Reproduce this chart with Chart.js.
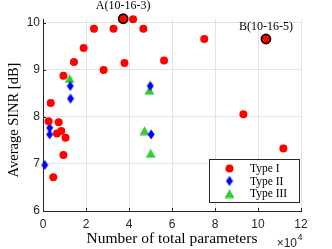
<!DOCTYPE html>
<html>
<head>
<meta charset="utf-8">
<script src="https://cdn.jsdelivr.net/npm/chart.js@4.4.0/dist/chart.umd.min.js"></script>
<style>
  html, body { margin: 0; padding: 0; background: #ffffff; }
  #wrap { width: 332px; height: 249px; }
</style>
</head>
<body>
<div id="wrap"><canvas id="c" width="332" height="249"></canvas></div>
<script>
// ---- data (x = number of total parameters, y = average SINR in dB) ----
const typeI_x = [4800, 2600, 3600, 7300, 6500, 8500, 10500, 9500, 9500, 14400, 18900, 23700, 28200, 32800, 37900, 37300, 41900, 46700, 56300, 75000, 103700, 93200, 111800];
const typeI_y = [6.72, 7.91, 8.30, 7.89, 7.65, 7.70, 7.56, 7.19, 8.88, 9.17, 9.47, 9.88, 9.00, 9.88, 9.15, 10.09, 10.08, 9.88, 9.20, 9.66, 9.66, 8.06, 7.33];
const typeII_x = [12800, 3100, 3100, 800, 12700, 49900, 50300];
const typeII_y = [8.39, 7.77, 7.63, 6.98, 8.66, 8.66, 7.63];
const typeIII_x = [12400, 49500, 47200, 50100];
const typeIII_y = [8.82, 8.57, 7.71, 7.23];
const seriesLabels = ['Type I', 'Type II', 'Type III'];
const annotLabels = ['A(10-16-3)', 'B(10-16-5)'];
const annotIndex = [15, 20];           // indices in Type I that are highlighted
const xTicks = [0, 20000, 40000, 60000, 80000, 100000, 120000];
const yTicks = [6, 7, 8, 9, 10];
const xTitle = 'Number of total parameters';
const yTitle = 'Average SINR [dB]';

const toPts = (xs, ys) => xs.map((x, i) => ({ x: x, y: ys[i] }));

function makeDiamond(color) {
  const c = document.createElement('canvas');
  c.width = 8; c.height = 11;
  const g = c.getContext('2d');
  g.fillStyle = color;
  g.beginPath();
  g.moveTo(4, 0.5); g.lineTo(7.5, 5.5); g.lineTo(4, 10.5); g.lineTo(0.5, 5.5); g.closePath();
  g.fill();
  return c;
}
function makeTriangle(color) {
  const c = document.createElement('canvas');
  c.width = 11; c.height = 10;
  const g = c.getContext('2d');
  g.fillStyle = color;
  g.beginPath();
  g.moveTo(5.5, 0.5); g.lineTo(10.5, 9.5); g.lineTo(0.5, 9.5); g.closePath();
  g.fill();
  return c;
}
const diamondImg = makeDiamond('#0000ff');
const triangleImg = makeTriangle('#33cc33');

const AX = '#262626';
const SERIF = '"Liberation Serif", "DejaVu Serif", serif';
const SANS = '"Liberation Sans", Arial, sans-serif';

const overlay = {
  id: 'overlay',
  afterDatasetsDraw(chart) {
    const ctx = chart.ctx;
    const xs = chart.scales.x, ys = chart.scales.y;
    const ca = chart.chartArea;
    ctx.save();
    // inside tick marks
    ctx.strokeStyle = AX; ctx.lineWidth = 1;
    xTicks.forEach(v => {
      const px = Math.round(xs.getPixelForValue(v)) + 0.5;
      ctx.beginPath(); ctx.moveTo(px, ca.bottom); ctx.lineTo(px, ca.bottom - 3); ctx.stroke();
    });
    yTicks.forEach(v => {
      const py = Math.round(ys.getPixelForValue(v)) + 0.5;
      ctx.beginPath(); ctx.moveTo(ca.left, py); ctx.lineTo(ca.left + 3, py); ctx.stroke();
    });
    // y axis title
    ctx.save();
    ctx.translate(14.5, 120);
    ctx.rotate(-Math.PI / 2);
    ctx.fillStyle = '#000';
    ctx.font = '14.5px ' + SERIF;
    ctx.textAlign = 'center'; ctx.textBaseline = 'middle';
    ctx.fillText(yTitle, 0, 0);
    ctx.restore();
    // annotations above highlighted points
    ctx.fillStyle = '#000';
    ctx.font = '12px ' + SERIF;
    ctx.textAlign = 'center'; ctx.textBaseline = 'middle';
    annotIndex.forEach((idx, k) => {
      const px = xs.getPixelForValue(typeI_x[idx]);
      const py = ys.getPixelForValue(typeI_y[idx]);
      ctx.fillText(annotLabels[k], px, py - 12.5);
    });
    // x10^4 exponent
    ctx.fillStyle = AX;
    ctx.font = '12px ' + SANS;
    ctx.textAlign = 'right'; ctx.textBaseline = 'middle';
    ctx.fillText('\u00d710', 297, 243.5);
    ctx.font = '9px ' + SANS;
    ctx.textAlign = 'left';
    ctx.fillText('4', 297.5, 238);
    // legend
    const lx = 209.5, ly = 159.5, lw = 90, lh = 43;
    ctx.fillStyle = '#fff';
    ctx.fillRect(lx, ly, lw, lh);
    ctx.strokeStyle = AX; ctx.lineWidth = 1;
    ctx.strokeRect(lx, ly, lw, lh);
    const rows = [168.5, 181, 193.5];
    ctx.fillStyle = '#ff0000';
    ctx.beginPath(); ctx.arc(229.5, rows[0], 4, 0, Math.PI * 2); ctx.fill();
    ctx.drawImage(diamondImg, 229.5 - 4, rows[1] - 5.5);
    ctx.drawImage(triangleImg, 229.5 - 5.5, rows[2] - 5);
    ctx.fillStyle = '#000';
    ctx.font = '11.5px ' + SERIF;
    ctx.textAlign = 'left'; ctx.textBaseline = 'middle';
    seriesLabels.forEach((t, i) => ctx.fillText(t, 250, rows[i] + 0.5));
    ctx.restore();
  }
};

new Chart(document.getElementById('c'), {
  type: 'scatter',
  data: {
    datasets: [
      {
        label: seriesLabels[0],
        data: toPts(typeI_x, typeI_y),
        pointStyle: 'circle',
        backgroundColor: '#ff0000',
        borderColor: ctx => annotIndex.includes(ctx.dataIndex) ? '#000000' : '#ff0000',
        borderWidth: ctx => annotIndex.includes(ctx.dataIndex) ? 1.6 : 0,
        pointRadius: ctx => annotIndex.includes(ctx.dataIndex) ? 4.6 : 4,
        pointHoverRadius: 4,
        clip: false
      },
      {
        label: seriesLabels[1],
        data: toPts(typeII_x, typeII_y),
        pointStyle: diamondImg,
        backgroundColor: '#0000ff',
        borderColor: '#0000ff',
        pointRadius: 5,
        clip: false
      },
      {
        label: seriesLabels[2],
        data: toPts(typeIII_x, typeIII_y),
        pointStyle: triangleImg,
        backgroundColor: '#33cc33',
        borderColor: '#33cc33',
        pointRadius: 5,
        clip: false
      }
    ]
  },
  options: {
    responsive: false,
    animation: false,
    devicePixelRatio: 1,
    layout: { padding: { top: 19, right: 31, left: 0, bottom: 0 } },
    plugins: { legend: { display: false }, tooltip: { enabled: false } },
    scales: {
      x: {
        type: 'linear',
        min: 0, max: 120000,
        afterFit: s => { s.height = 38; },
        afterBuildTicks: s => { s.ticks = xTicks.map(v => ({ value: v })); },
        ticks: {
          callback: v => String(v / 10000),
          color: AX,
          font: { family: SANS, size: 12 },
          padding: 6,
          maxRotation: 0,
          autoSkip: false
        },
        grid: { color: '#e3e3e3', drawTicks: false, lineWidth: 1 },
        border: { color: AX, width: 1 },
        title: {
          display: true,
          text: xTitle,
          color: '#000',
          font: { family: SERIF, size: 15.5 },
          padding: { top: 0, bottom: 1 }
        }
      },
      y: {
        type: 'linear',
        min: 6, max: 10.085,
        afterFit: s => { s.width = 43; },
        afterBuildTicks: s => { s.ticks = yTicks.map(v => ({ value: v })); },
        ticks: {
          callback: v => String(v),
          color: AX,
          font: { family: SANS, size: 12 },
          padding: 3,
          includeBounds: false,
          autoSkip: false
        },
        grid: { color: '#e3e3e3', drawTicks: false, lineWidth: 1 },
        border: { color: AX, width: 1 },
        title: { display: false }
      }
    }
  },
  plugins: [overlay]
});
</script>
</body>
</html>
